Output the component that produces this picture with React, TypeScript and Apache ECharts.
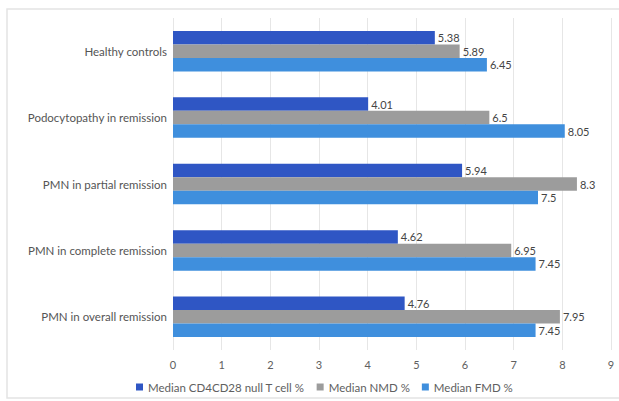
import React, { useEffect, useRef } from "react";
import * as echarts from "echarts";

const categories = [
  "Healthy controls",
  "Podocytopathy in remission",
  "PMN in partial remission",
  "PMN in complete remission",
  "PMN in overall remission",
];
const cd4cd28 = [5.38, 4.01, 5.94, 4.62, 4.76];
const nmd = [5.89, 6.5, 8.3, 6.95, 7.95];
const fmd = [6.45, 8.05, 7.5, 7.45, 7.45];
const seriesNames = ["Median CD4CD28 null T cell %", "Median NMD %", "Median FMD %"];
const xTicks = { min: 0, max: 9, interval: 1 };

export default function App() {
  const ref = useRef<HTMLDivElement>(null);
  useEffect(() => {
    if (!ref.current) return;
    const chart = echarts.init(ref.current, undefined, { renderer: "svg" });
    const font = "Lato, 'Open Sans', sans-serif";
    const colors = ["#2f56c4", "#9c9c9c", "#3f8fdd"];
    const datasets = [cd4cd28, nmd, fmd];
    chart.setOption({
      animation: false,
      backgroundColor: "#ffffff",
      textStyle: { fontFamily: font },
      graphic: [
        {
          type: "rect",
          shape: { x: 7, y: 9, width: 620, height: 389 },
          style: { fill: "none", stroke: "#e4e4e4", lineWidth: 1.5 },
          silent: true,
        },
      ],
      grid: { left: 173, right: 8, top: 18, bottom: 51, containLabel: false },
      xAxis: {
        type: "value",
        min: xTicks.min,
        max: xTicks.max,
        interval: xTicks.interval,
        axisLine: { show: false },
        axisTick: { show: false },
        splitLine: { show: true, lineStyle: { color: "#e6e6e6", width: 1 } },
        axisLabel: { color: "#606060", fontSize: 11, margin: 9, fontFamily: font },
      },
      yAxis: {
        type: "category",
        data: categories,
        inverse: true,
        axisLine: { show: false },
        axisTick: { show: false },
        axisLabel: { color: "#555555", fontSize: 11.5, margin: 6, fontFamily: font },
      },
      legend: {
        bottom: 3,
        left: 131,
        itemWidth: 7,
        itemHeight: 7,
        itemGap: 12,
        icon: "rect",
        textStyle: { color: "#606060", fontSize: 11.5, fontFamily: font },
        data: seriesNames,
      },
      series: seriesNames.map((name, i) => ({
        name,
        type: "bar",
        data: datasets[i],
        barGap: "0%",
        barCategoryGap: "39%",
        itemStyle: { color: colors[i] },
        label: {
          show: true,
          position: "right",
          distance: 3,
          color: "#444444",
          fontSize: 11,
          fontFamily: font,
        },
      })),
    });
    return () => chart.dispose();
  }, []);
  return (
    <div
      ref={ref}
      style={{ position: "fixed", left: 0, top: 0, width: 619, height: 401 }}
    />
  );
}
